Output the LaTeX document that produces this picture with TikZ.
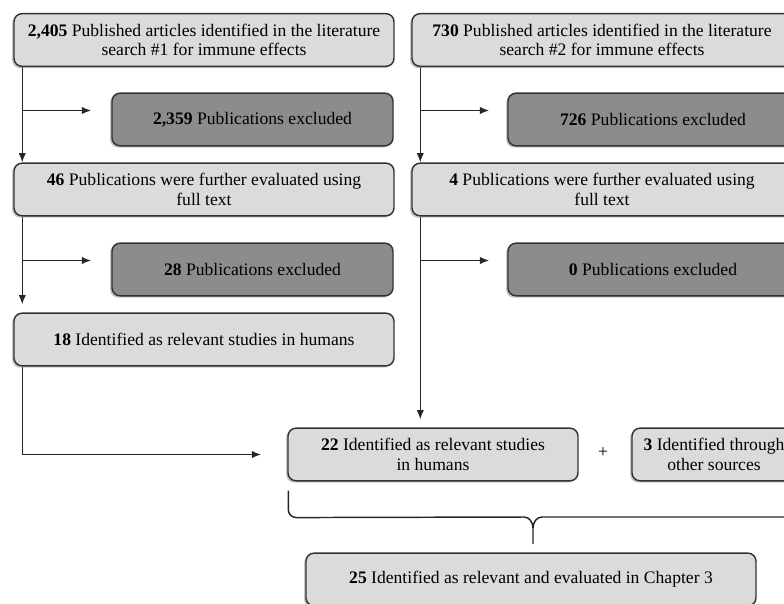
\documentclass[tikz,border=0pt]{standalone}
\usepackage{fontspec}
\setmainfont{Liberation Serif}
\usepackage{tikz}
\usetikzlibrary{arrows.meta,shadows,calc}
\pgfdeclarelayer{bg}
\pgfsetlayers{bg,main}
\tikzset{
  box/.style={draw=black!80, line width=1.1pt, rounded corners=6pt, fill=black!14,
    align=center, inner sep=0pt, minimum height=39.5pt,
    font=\fontsize{13.2}{14.5}\selectfont,
    drop shadow={shadow xshift=-1.4pt, shadow yshift=-1.4pt, fill=black!45}},
  lbox/.style={box, minimum width=285pt},
  xbox/.style={box, fill=black!45},
  arr/.style={-{Latex[length=7pt,width=5.5pt]}, line width=1.1pt, draw=black!85},
  line/.style={line width=1.1pt, draw=black!85}
}
\begin{document}
\begin{tikzpicture}[x=0.75pt, y=-0.75pt]
        \useasboundingbox (0,0) rectangle (784,603);
        \clip (0,0) rectangle (784,603);
        % left column
        \node (a1) [lbox] at (204, 40) {\textbf{2,405} Published articles identified in the literature\\search \#1 for immune effects};
        \node (e1) [xbox, minimum width=210.75pt] at (252.5, 119.5) {\textbf{2,359} Publications excluded};
        \node (b1) [lbox] at (204, 189.5) {\textbf{46} Publications were further evaluated using\\full text};
        \node (e2) [xbox, minimum width=210.75pt] at (252.5, 269.5) {\textbf{28} Publications excluded};
        \node (c1) [lbox] at (204, 339.5) {\textbf{18} Identified as relevant studies in humans};
        % right column
        \node (a2) [lbox] at (602, 40) {\textbf{730} Published articles identified in the literature\\search \#2 for immune effects};
        \node (e3) [xbox, minimum width=217.5pt] at (653, 119.5) {\textbf{726} Publications excluded};
        \node (b2) [lbox] at (602, 189.5) {\textbf{4} Publications were further evaluated using\\full text};
        \node (e4) [xbox, minimum width=217.5pt] at (653, 269.5) {\textbf{0} Publications excluded};
        % bottom
        \node (d) [box, minimum width=217.5pt] at (433, 454.5) {\textbf{22} Identified as relevant studies\\in humans};
        \node (plus) [font=\fontsize{13.2}{14.5}\selectfont] at (603, 453) {+};
        \node (f) [box, minimum width=123pt] at (714, 454.5) {\textbf{3} Identified through\\other sources};
        \node (g) [box, minimum width=337.5pt] at (531, 579.5) {\textbf{25} Identified as relevant and evaluated in Chapter 3};
        \coordinate (s1) at ($(a1.south west)+(9,0)$);
        \coordinate (s2) at ($(b1.south west)+(9,0)$);
        \coordinate (s3) at ($(c1.south west)+(9,0)$);
        \coordinate (t1) at ($(a2.south west)+(9,0)$);
        \coordinate (t2) at ($(b2.south west)+(9,0)$);
        \begin{pgfonlayer}{bg}
                \draw [arr] (s1) -- (s1 |- b1.north);
                \draw [arr] ($(s1 |- e1.west)+(0,-9)$) -- ($(e1.west)+(-20,-9)$);
                \draw [arr, shorten >=6pt] (s2) -- (s2 |- c1.north);
                \draw [arr] ($(s2 |- e2.west)+(0,-9)$) -- ($(e2.west)+(-20,-9)$);
                \draw [arr, shorten >=19.5pt] (s3) |- (d.west);
                \draw [arr] (t1) -- (t1 |- b2.north);
                \draw [arr] ($(t1 |- e3.west)+(0,-9)$) -- ($(e3.west)+(-18,-9)$);
                \draw [arr, shorten >=6pt] (t2) -- (t2 |- d.north);
                \draw [arr] ($(t2 |- e4.west)+(0,-9)$) -- ($(e4.west)+(-18,-9)$);
        \end{pgfonlayer}
        % brace under the two sources
        \draw [line] ($(d.south west)+(1,9)$) -- ($(d.south west)+(1,28)$)
                to[out=-90, in=180] ($(d.south west)+(9,36)$) -- (524,517)
                to[out=0, in=90] (533,528) -- (533,544);
        \draw [line] (533,528) to[out=90, in=180] (542,517) -- (800,517);
\end{tikzpicture}
\end{document}
